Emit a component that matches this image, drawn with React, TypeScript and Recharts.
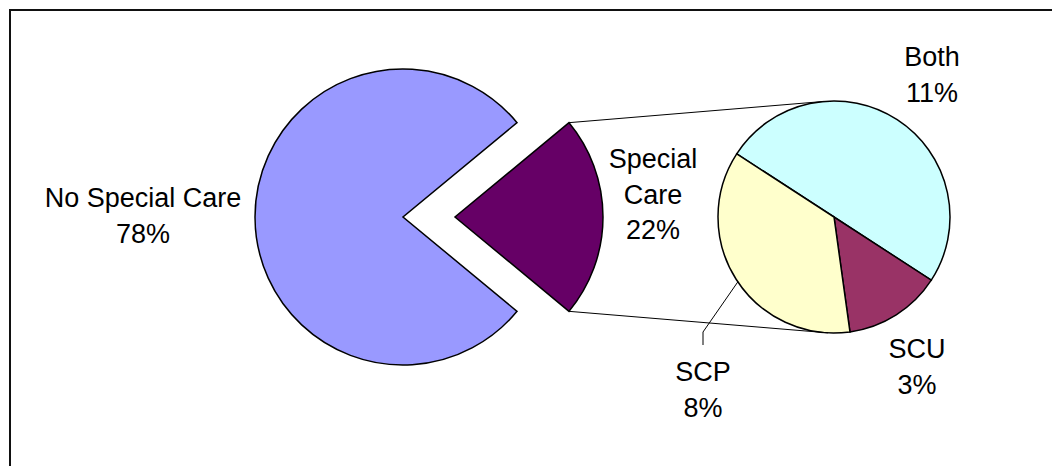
import React from 'react';
import { PieChart, Pie, Cell } from 'recharts';

// ---- data ----
const mainCategories = ['Special Care', 'No Special Care'];
const mainValues = [22, 78];
const subCategories = ['Both', 'SCU', 'SCP'];
const subValues = [11, 3, 8];
const mainLabelLines: string[][] = [['Special', 'Care'], ['No Special Care']];
const subLabelLines: string[][] = [['Both'], ['SCU'], ['SCP']];

// ---- layout / style ----
const W = 1052;
const H = 466;
const CY = 217;
const MAIN_CX = 403;
const EXPLODE = 52;
const MAIN_R = 148;
const SUB_CX = 834;
const SUB_R = 116;
const SUB_START = 147;
const FONT = '"Liberation Sans", Arial, Helvetica, sans-serif';
const FS = 27;
const LH = 35.5;
const mainColors = ['#660066', '#9999FF'];
const subColors = ['#CCFFFF', '#993366', '#FFFFCC'];

// label anchors relative to pie centre: dx, baseline of first line
const labelLayout: Record<string, { dx: number; by: number }> = {
  'No Special Care': { dx: -260, by: -10 },
  'Special Care': { dx: 198, by: -49 },
  Both: { dx: 98, by: -151 },
  SCU: { dx: 83, by: 141 },
  SCP: { dx: -131, by: 164 },
};
const scpLeader = { angle: -146, elbowDx: -131, elbowDy: 115, endDy: 128 };

const mainData = mainCategories.map((name, i) => ({ name, value: mainValues[i], lines: mainLabelLines[i] }));
const subData = subCategories.map((name, i) => ({ name, value: subValues[i], lines: subLabelLines[i] }));

const mainTotal = mainValues.reduce((a, b) => a + b, 0);
const specialAngle = (mainValues[0] / mainTotal) * 360;
const mainStart = -specialAngle / 2;

const RAD = Math.PI / 180;
const polar = (cx: number, cy: number, r: number, a: number) => [cx + r * Math.cos(a * RAD), cy - r * Math.sin(a * RAD)];

function LabelText({ x, by, lines }: { x: number; by: number; lines: string[] }) {
  return (
    <text x={x} y={by} textAnchor="middle" fontFamily={FONT} fontSize={FS} fill="#000">
      {lines.map((l, i) => (
        <tspan key={i} x={x} y={by + i * LH}>
          {l}
        </tspan>
      ))}
    </text>
  );
}

const makeMainLabel = (visibleName: string, cxDefault: number) => (props: any) => {
  const name = props.name ?? props.payload?.name;
  if (name !== visibleName) return null;
  const cx = typeof props.cx === 'number' ? props.cx : cxDefault;
  const cy = typeof props.cy === 'number' ? props.cy : CY;
  const p = props.payload ?? props;
  const lines = [...(p.lines || [name]), `${p.value ?? props.value}%`];
  const lay = labelLayout[name];
  const extras: React.ReactNode[] = [];
  if (name === mainCategories[0]) {
    const [x1, y1] = polar(cx, cy, MAIN_R, specialAngle / 2);
    const [x2, y2] = polar(cx, cy, MAIN_R, -specialAngle / 2);
    const [tx, ty] = polar(SUB_CX, CY, SUB_R, 95);
    const [bx, byy] = polar(SUB_CX, CY, SUB_R, -93);
    extras.push(<line key="t" x1={x1} y1={y1} x2={tx} y2={ty} stroke="#000" strokeWidth={1} />);
    extras.push(<line key="b" x1={x2} y1={y2} x2={bx} y2={byy} stroke="#000" strokeWidth={1} />);
  }
  return (
    <g>
      {extras}
      <LabelText x={cx + lay.dx} by={cy + lay.by} lines={lines} />
    </g>
  );
};

const subLabel = (props: any) => {
  const name = props.name ?? props.payload?.name;
  const cx = typeof props.cx === 'number' ? props.cx : SUB_CX;
  const cy = typeof props.cy === 'number' ? props.cy : CY;
  const r = typeof props.outerRadius === 'number' ? props.outerRadius : SUB_R;
  const p = props.payload ?? props;
  const lines = [...(p.lines || [name]), `${p.value ?? props.value}%`];
  const lay = labelLayout[name];
  let leader: React.ReactNode = null;
  if (name === 'SCP') {
    const [sx, sy] = polar(cx, cy, r, scpLeader.angle);
    const ex = cx + scpLeader.elbowDx;
    leader = (
      <polyline
        points={`${sx},${sy} ${ex},${cy + scpLeader.elbowDy} ${ex},${cy + scpLeader.endDy}`}
        fill="none"
        stroke="#000"
        strokeWidth={1}
      />
    );
  }
  return (
    <g>
      {leader}
      <LabelText x={cx + lay.dx} by={cy + lay.by} lines={lines} />
    </g>
  );
};

export default function App() {
  return (
    <div
      style={{
        position: 'absolute',
        left: 0,
        top: 0,
        width: W,
        height: H,
        background: '#fff',
        overflow: 'hidden',
      }}
    >
      <div
        style={{
          position: 'absolute',
          left: 9,
          top: 9,
          width: W + 50,
          height: H + 50,
          borderTop: '2px solid #111',
          borderLeft: '2px solid #111',
          boxSizing: 'border-box',
        }}
      />
      <div style={{ position: 'absolute', left: 0, top: 0 }}>
        <PieChart width={W} height={H} margin={{ top: 0, right: 0, bottom: 0, left: 0 }}>
          <Pie
            data={mainData}
            dataKey="value"
            nameKey="name"
            cx={MAIN_CX}
            cy={CY}
            outerRadius={MAIN_R}
            startAngle={mainStart}
            endAngle={mainStart + 360}
            isAnimationActive={false}
            labelLine={false}
            label={makeMainLabel('No Special Care', MAIN_CX)}
          >
            {mainData.map((d, i) => (
              <Cell
                key={d.name}
                fill={i === 0 ? 'none' : mainColors[i]}
                stroke={i === 0 ? 'none' : '#000'}
                strokeWidth={1.5}
              />
            ))}
          </Pie>
          <Pie
            data={mainData}
            dataKey="value"
            nameKey="name"
            cx={MAIN_CX + EXPLODE}
            cy={CY}
            outerRadius={MAIN_R}
            startAngle={mainStart}
            endAngle={mainStart + 360}
            isAnimationActive={false}
            labelLine={false}
            label={makeMainLabel('Special Care', MAIN_CX + EXPLODE)}
          >
            {mainData.map((d, i) => (
              <Cell
                key={d.name}
                fill={i === 0 ? mainColors[i] : 'none'}
                stroke={i === 0 ? '#000' : 'none'}
                strokeWidth={1.5}
              />
            ))}
          </Pie>
          <Pie
            data={subData}
            dataKey="value"
            nameKey="name"
            cx={SUB_CX}
            cy={CY}
            outerRadius={SUB_R}
            startAngle={SUB_START}
            endAngle={SUB_START - 360}
            isAnimationActive={false}
            labelLine={false}
            label={subLabel}
          >
            {subData.map((d, i) => (
              <Cell key={d.name} fill={subColors[i]} stroke="#000" strokeWidth={1.5} />
            ))}
          </Pie>
        </PieChart>
      </div>
    </div>
  );
}
